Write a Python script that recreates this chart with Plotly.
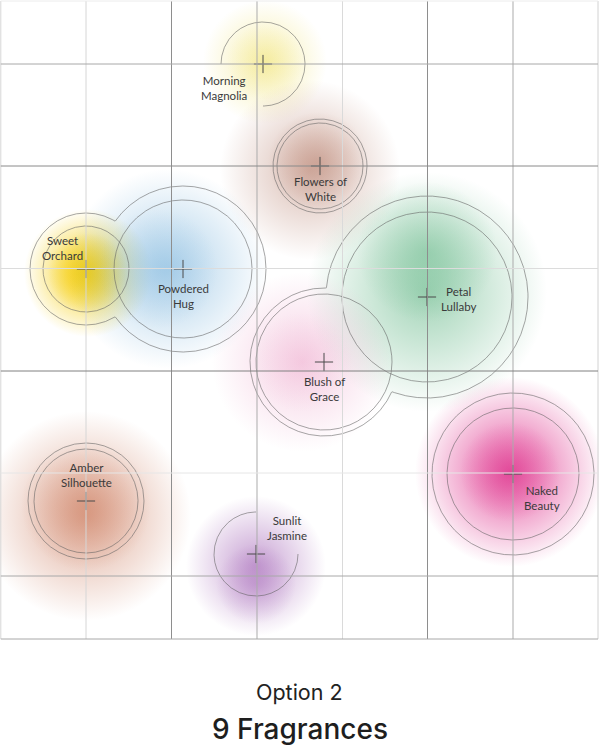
import numpy as np
import plotly.graph_objects as go

# ---------------- data ----------------
names = ["Morning Magnolia", "Flowers of White", "Sweet Orchard", "Powdered Hug",
         "Petal Lullaby", "Blush of Grace", "Naked Beauty", "Amber Silhouette",
         "Sunlit Jasmine"]
label_lines = [["Morning", "Magnolia"], ["Flowers of", "White"], ["Sweet", "Orchard"],
               ["Powdered", "Hug"], ["Petal", "Lullaby"], ["Blush of", "Grace"],
               ["Naked", "Beauty"], ["Amber", "Silhouette"], ["Sunlit", "Jasmine"]]
map_x = [263, 320, 86, 183, 427, 324, 513, 86, 256]
map_y = [64, 166, 269, 269, 297, 362, 474, 501, 554]
inner_r = [42, 43, 43, 69, 85, 68, 66, 52, 42]
outer_r = [0, 47, 56, 83, 101, 74, 81, 58, 0]   # 0 -> single ring
grid_x = [0.8, 86, 171.5, 257, 342.5, 427.5, 513, 598]
grid_y = [1, 64, 166, 268.5, 371, 473, 576, 639]
subtitle = "Option 2"
title = "9 Fragrances"

# ---------------- style ----------------
W, H = 602, 750
PLOT_W, PLOT_H = 599, 640
grid_x_col = ["#d6d6d6", "#d6d6d6", "#8e8e8e", "#ababab", "#dadada", "#8e8e8e", "#ababab", "#d2d2d2"]
grid_y_col = ["#ececec", "#a8a8a8", "#8a8a8a", "#dcdcdc", "#808080", "#e6e6e6", "#a8a8a8", "#a8a8a8"]
blob_rgb = [(240, 226, 110), (185, 130, 112), (245, 205, 10), (140, 190, 225),
            (100, 183, 135), (238, 170, 205), (224, 58, 145), (205, 125, 95),
            (160, 95, 180)]
# (dx, dy, radius, alpha) layers for each blob
blob_layers = [
    [(2, -2, 62, 0.55), (2, -2, 38, 0.25)],
    [(-10, 4, 90, 0.55), (-2, -4, 50, 0.45)],
    [(2, 4, 64, 0.95), (2, 4, 40, 0.8)],
    [(-15, 0, 100, 0.7), (-25, 0, 60, 0.35)],
    [(0, -5, 120, 0.6), (0, -45, 70, 0.45)],
    [(-22, 0, 90, 0.55), (-22, 0, 50, 0.2)],
    [(-3, -2, 95, 0.85), (-3, -2, 50, 0.45)],
    [(0, 15, 105, 0.65), (0, 5, 65, 0.45)],
    [(0, 12, 70, 0.6), (0, 30, 40, 0.35)],
]
label_off = [(-39, 24), (0, 23), (-24, -21), (0, 27), (31, 2), (0, 27), (29, 24), (0, -26), (31, -26)]
arc_gap = [(90, 180), None, None, None, None, None, None, None, (270, 360)]  # degrees (screen, y down)
ring_col = "rgba(95,95,95,0.7)"
ring_w = 0.8

fig = go.Figure()

# blobs (radial gradient: gradient.color is the centre colour)
for i in range(len(names)):
    r, g, b = blob_rgb[i]
    for dx, dy, rad, a in blob_layers[i]:
        fig.add_trace(go.Scatter(
            x=[map_x[i] + dx], y=[map_y[i] + dy], mode="markers",
            marker=dict(size=2 * rad, color=f"rgba({r},{g},{b},0)",
                        gradient=dict(type="radial", color=f"rgba({r},{g},{b},{a})"),
                        line=dict(width=0)),
            hoverinfo="skip", showlegend=False))

theta = np.linspace(0, 2 * np.pi, 1441)

def ring_points(cx, cy, rad, mask=None):
    xs = cx + rad * np.cos(theta)
    ys = cy + rad * np.sin(theta)
    xl, yl = [], []
    for k in range(len(theta)):
        if mask is not None and mask[k]:
            xl.append(None); yl.append(None)
        else:
            xl.append(float(xs[k])); yl.append(float(ys[k]))
    return xl, yl

# outer rings (union outline)
for i in range(len(names)):
    if outer_r[i] <= 0:
        continue
    xs = map_x[i] + outer_r[i] * np.cos(theta)
    ys = map_y[i] + outer_r[i] * np.sin(theta)
    mask = np.zeros(len(theta), bool)
    for j in range(len(names)):
        if j == i or outer_r[j] <= 0:
            continue
        mask |= np.hypot(xs - map_x[j], ys - map_y[j]) < outer_r[j]
    xl, yl = ring_points(map_x[i], map_y[i], outer_r[i], mask)
    fig.add_trace(go.Scatter(x=xl, y=yl, mode="lines", connectgaps=False,
                             line=dict(color=ring_col, width=ring_w),
                             hoverinfo="skip", showlegend=False))

# inner rings / single arcs
for i in range(len(names)):
    mask = None
    if arc_gap[i] is not None:
        deg = np.degrees(theta)
        mask = (deg > arc_gap[i][0]) & (deg < arc_gap[i][1])
    xl, yl = ring_points(map_x[i], map_y[i], inner_r[i], mask)
    fig.add_trace(go.Scatter(x=xl, y=yl, mode="lines", connectgaps=False,
                             line=dict(color=ring_col, width=ring_w),
                             hoverinfo="skip", showlegend=False))

# crosshairs
fig.add_trace(go.Scatter(x=map_x, y=map_y, mode="markers",
                         marker=dict(symbol="cross-thin", size=13,
                                     line=dict(color="#4a4a4a", width=1)),
                         hoverinfo="skip", showlegend=False))

# grid lines (drawn above the colour blobs)
shapes = []
for gx, c in zip(grid_x, grid_x_col):
    shapes.append(dict(type="line", xref="x", yref="y", x0=gx, x1=gx,
                       y0=grid_y[0], y1=grid_y[-1], line=dict(color=c, width=1), layer="above"))
for gy, c in zip(grid_y, grid_y_col):
    shapes.append(dict(type="line", xref="x", yref="y", x0=grid_x[0], x1=grid_x[-1],
                       y0=gy, y1=gy, line=dict(color=c, width=1), layer="above"))

annotations = []
for i in range(len(names)):
    ox, oy = label_off[i]
    annotations.append(dict(
        x=map_x[i] + ox, y=map_y[i] + oy,
        xref="x", yref="y", text="<br>".join(label_lines[i]), showarrow=False,
        xanchor="center", yanchor="middle", borderpad=0,
        font=dict(family="Lato", size=11.5, color="#3a3a3a")))

annotations.append(dict(x=0.5, y=(PLOT_H - 692) / PLOT_H, xref="paper", yref="paper",
                        text=subtitle, showarrow=False, xanchor="center", yanchor="middle",
                        font=dict(family="Inter", size=21.5, color="#222222")))
annotations.append(dict(x=0.5, y=(PLOT_H - 729) / PLOT_H, xref="paper", yref="paper",
                        text=title, showarrow=False, xanchor="center", yanchor="middle",
                        font=dict(family="Inter", size=28, color="#1e1e1e", weight=500)))

axis_common = dict(showgrid=False, zeroline=False, showticklabels=False, ticks="",
                   showline=False, fixedrange=True)
fig.update_layout(
    width=W, height=H,
    margin=dict(l=0, r=W - PLOT_W, t=0, b=H - PLOT_H, pad=0),
    paper_bgcolor="white", plot_bgcolor="white",
    xaxis=dict(range=[0, PLOT_W], **axis_common),
    yaxis=dict(range=[PLOT_H, 0], **axis_common),
    shapes=shapes, annotations=annotations, showlegend=False,
)
fig.write_html("out.html")
